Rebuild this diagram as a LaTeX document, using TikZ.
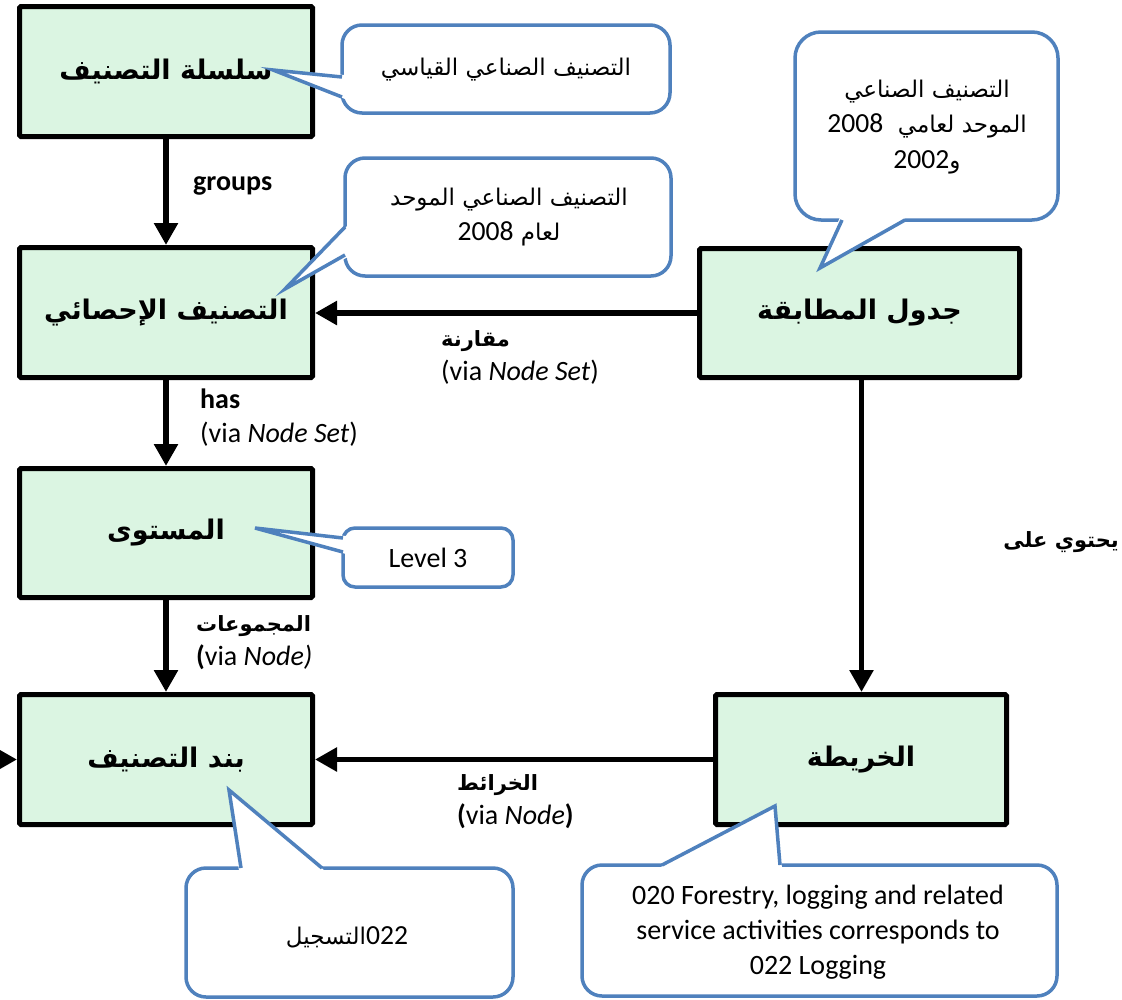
\documentclass[tikz,border=0pt]{standalone}
\usepackage{fontspec}
\setmainfont{Carlito}
\newfontfamily\arabicfont[Script=Arabic]{DejaVu Sans}
\newfontfamily\latinfont[Scale=1.2]{Carlito}
\TeXXeTstate=1
\usetikzlibrary{arrows.meta}
\definecolor{boxgreen}{RGB}{219,245,226}
\definecolor{coblue}{RGB}{79,129,189}
\newcommand{\arb}[1]{{\arabicfont\beginR #1\endR}}
\newcommand{\ltn}[1]{\beginL{\latinfont #1}\endL}
\tikzset{
  ent/.style={draw=black, line width=5pt, fill=boxgreen, rounded corners=1.5pt,
    font=\arabicfont\bfseries\fontsize{27}{30}\selectfont, inner sep=0pt},
  rel/.style={line width=5.5pt, -{Triangle[length=22pt,width=23pt]}},
  cobox/.style={draw=coblue, line width=3.5pt, fill=white},
  coline/.style={draw=coblue, line width=3.5pt, line join=miter},
  cotext/.style={font=\fontsize{23}{35.5}\selectfont, align=center, inner sep=0pt},
  cotextlat/.style={font=\fontsize{28}{35}\selectfont, align=center, inner sep=0pt},
  lab/.style={font=\fontsize{28}{34}\selectfont, inner sep=0pt, anchor=west,
    text height=0.75em, text depth=0.22em},
  labar/.style={font=\arabicfont\bfseries\fontsize{21}{30}\selectfont, inner sep=0pt, anchor=west}
}
\begin{document}
\begin{tikzpicture}[x=1pt,y=-1pt]
\useasboundingbox (0,0) rectangle (1122,999);
\fill[white] (0,0) rectangle (1122,999);

% entity boxes
\node[ent, minimum width=293pt, minimum height=130pt] (b1) at (166,71.5) {\arb{سلسلة التصنيف}};
\node[ent, minimum width=293pt, minimum height=130pt] (b2) at (166,312.5) {\arb{التصنيف الإحصائي}};
\node[ent, minimum width=293pt, minimum height=129pt] (b3) at (166,533) {\arb{المستوى}};
\node[ent, minimum width=293pt, minimum height=130pt] (b4) at (166,759.5) {\arb{بند التصنيف}};
\node[ent, minimum width=320pt, minimum height=129pt] (b5) at (859.5,313) {\arb{جدول المطابقة}};
\node[ent, minimum width=291pt, minimum height=130pt] (b6) at (861,759.5) {\arb{الخريطة}};

% connectors
\draw[rel] (b1.south) -- (b2.north);
\draw[rel] (b2.south) -- (b3.north);
\draw[rel] (b3.south) -- (b4.north);
\draw[rel] (b5.west) -- (b5.west -| b2.east);
\draw[rel] ([xshift=2pt]b5.south) -- ([xshift=2pt]b5.south |- b6.north);
\draw[rel] (b6.west) -- (b6.west -| b4.east);
\coordinate (lin) at (-30,759.5);
\draw[rel] (lin) -- (b4.west);

% connector labels
\node[lab, font=\bfseries\fontsize{28}{34}\selectfont] (lgroups) at (193,188) {groups};
\node[labar] (lcompare) at (441,341) {\arb{مقارنة}};
\node[lab] (lcompvia) at (441,378) {(via \textit{Node Set})};
\node[lab, font=\bfseries\fontsize{28}{34}\selectfont] (lhas) at (200,406) {has};
\node[lab] (lhasvia) at (200,440) {(via \textit{Node Set})};
\node[labar] (lgroupsar) at (196,626) {\arb{المجموعات}};
\node[lab] (lgroupsvia) at (196,663) {\textbf{(}via \textit{Node)}};
\node[labar] (lmaps) at (457,785) {\arb{الخرائط}};
\node[lab] (lmapsvia) at (457,822) {\textbf{(}via \textit{Node}\textbf{)}};
\node[labar, anchor=east] (lcontains) at (1119,542) {\arb{يحتوي على}};

% callouts
\draw[cobox, rounded corners=20pt] (342,25) rectangle (670,113);
\fill[white] (345,75) -- (273,70) -- (345,99) -- cycle;
\draw[coline] (342,77) -- (273,70) -- (342,97);
\node[cotext] (c1) at (506,70) {\arb{التصنيف الصناعي القياسي}};

\draw[cobox, rounded corners=20pt] (345,158) rectangle (671,276);
\fill[white] (348,225) -- (285,289) -- (348,257) -- cycle;
\draw[coline] (345,227) -- (285,289) -- (345,255);
\node[cotext] (c2) at (509,217) {\arb{التصنيف الصناعي الموحد}\\\arb{لعام \ltn{2008}}};

\draw[cobox, rounded corners=26pt] (795,32) rectangle (1058,220);
\fill[white] (840,217) -- (820,268) -- (907,217) -- cycle;
\draw[coline] (842,220) -- (820,268) -- (905,220);
\node[cotext] (c3) at (927,127) {\arb{التصنيف الصناعي}\\\arb{الموحد لعامي \ \ltn{2008}}\\\arb{و\ltn{2002}}};

\draw[cobox, rounded corners=12pt] (343,528) rectangle (513,587);
\fill[white] (346,536) -- (255,528) -- (346,554) -- cycle;
\draw[coline] (343,538) -- (255,528) -- (343,552);
\node[cotextlat] (c4) at (428,558) {Level 3};

\draw[cobox, rounded corners=20pt] (186,868) rectangle (513,997);
\fill[white] (239,871) -- (229,790) -- (325,871) -- cycle;
\draw[coline] (241,868) -- (229,790) -- (322,868);
\node[cotext] (c5) at (347,937) {\arb{\ltn{022}التسجيل}};

\draw[cobox, rounded corners=20pt] (582,865) rectangle (1057,996);
\fill[white] (659,868) -- (775,806) -- (782,868) -- cycle;
\draw[coline] (662,865) -- (775,806) -- (780,865);
\node[cotextlat] (c6) at (818,932) {020 Forestry, logging and related\\service activities corresponds to\\022 Logging};
\end{tikzpicture}
\end{document}
